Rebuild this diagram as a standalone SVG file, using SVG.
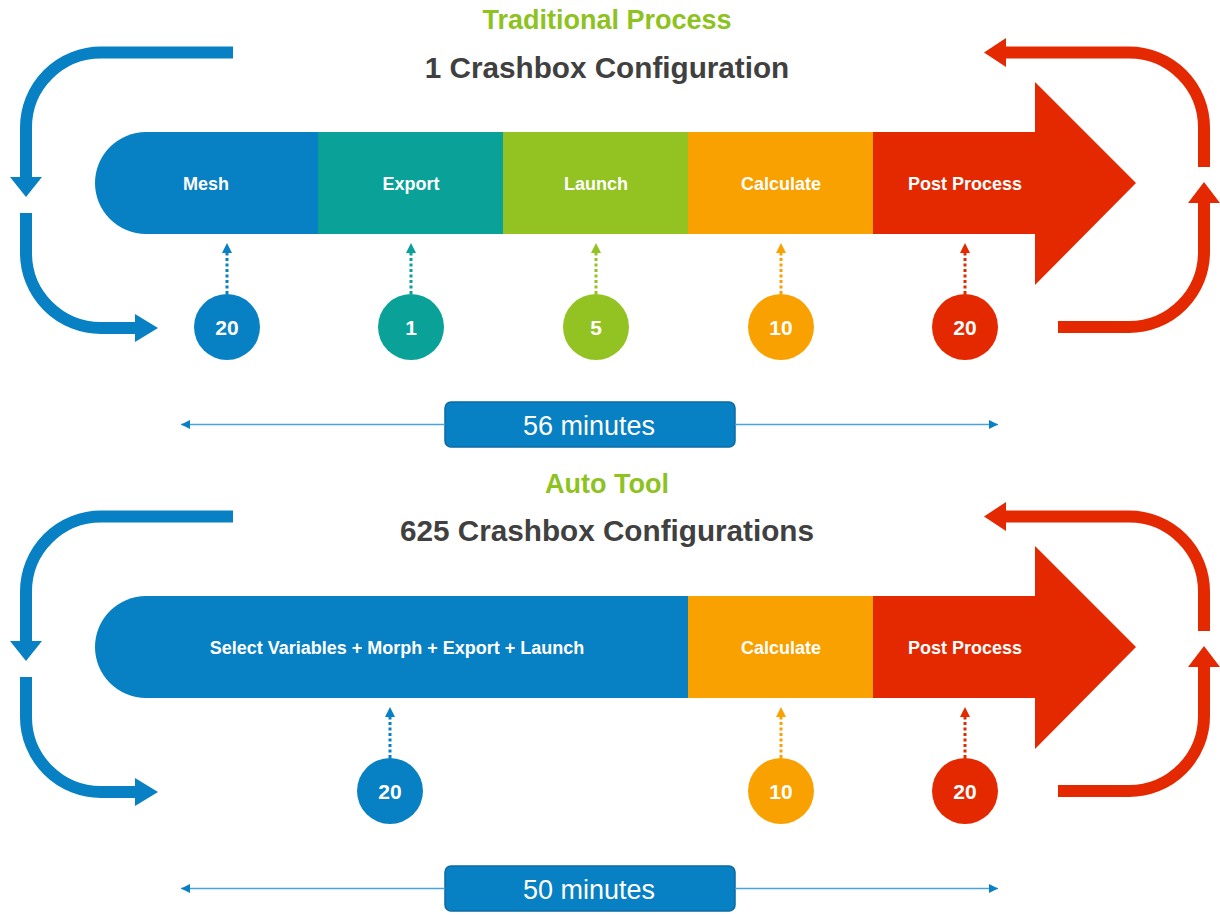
<svg xmlns="http://www.w3.org/2000/svg" width="1220" height="915" viewBox="0 0 1220 915">
<defs>
<style>
.title{font-family:"Liberation Sans",Arial,sans-serif;font-weight:bold;font-size:27px;fill:#8dc21f;text-anchor:middle}
.sub{font-family:"Liberation Sans",Arial,sans-serif;font-weight:bold;font-size:29.7px;fill:#404040;text-anchor:middle}
.lbl{font-family:"Liberation Sans",Arial,sans-serif;font-weight:bold;font-size:18px;fill:#ffffff;text-anchor:middle}
.num{font-family:"Liberation Sans",Arial,sans-serif;font-weight:bold;font-size:21px;fill:#ffffff;text-anchor:middle}
.min{font-family:"Liberation Sans",Arial,sans-serif;font-size:27px;fill:#ffffff;text-anchor:middle}
.loopb{fill:none;stroke:#0880c4;stroke-width:12}
.loopr{fill:none;stroke:#e42800;stroke-width:12}
.dot{fill:none;stroke-width:3;stroke-dasharray:3 2.5}
.tl{stroke:#4aa3dc;stroke-width:1.3}
.box{fill:#0880c4;stroke:#0b6aa5;stroke-width:1.5}
</style>
<marker id="tip" viewBox="0 0 10 10" refX="10" refY="5" markerWidth="9" markerHeight="9" markerUnits="userSpaceOnUse" orient="auto-start-reverse"><path d="M0,0 L10,5 L0,10 Z" fill="#0880c4"/></marker>
</defs>
<rect width="1220" height="915" fill="#ffffff"/>

<g id="section1">
<text class="title" x="607" y="29">Traditional Process</text>
<text class="sub" x="607" y="78">1 Crashbox Configuration</text>

<g id="mesh"><path d="M146,132 H318 V234 H146 A51,51 0 0 1 146,132 Z" fill="#0880c4"/><text class="lbl" x="206" y="190">Mesh</text></g>
<g id="export"><rect x="318" y="132" width="185" height="102" fill="#0aa198"/><text class="lbl" x="411" y="190">Export</text></g>
<g id="launch"><rect x="503" y="132" width="185" height="102" fill="#92c323"/><text class="lbl" x="596" y="190">Launch</text></g>
<g id="calculate"><rect x="688" y="132" width="185" height="102" fill="#f9a100"/><text class="lbl" x="781" y="190">Calculate</text></g>
<g id="postprocess"><polygon points="873,132 1035,132 1035,82 1136,183 1035,285 1035,234 873,234" fill="#e42800"/><text class="lbl" x="965" y="190">Post Process</text></g>

<g id="t-mesh"><circle cx="227" cy="327" r="33" fill="#0880c4"/><text class="num" x="227" y="334.5">20</text></g>
<g id="t-export"><circle cx="411" cy="327" r="33" fill="#0aa198"/><text class="num" x="411" y="334.5">1</text></g>
<g id="t-launch"><circle cx="596" cy="327" r="33" fill="#92c323"/><text class="num" x="596" y="334.5">5</text></g>
<g id="t-calc"><circle cx="781" cy="327" r="33" fill="#f9a100"/><text class="num" x="781" y="334.5">10</text></g>
<g id="t-post"><circle cx="965" cy="327" r="33" fill="#e42800"/><text class="num" x="965" y="334.5">20</text></g>

<g id="total1"><rect class="box" x="445" y="402" width="290" height="45" rx="6"/><text class="min" x="589" y="434.5">56 minutes</text></g>
</g>

<g id="section2">
<text class="title" x="607" y="493">Auto Tool</text>
<text class="sub" x="607" y="541">625 Crashbox Configurations</text>

<g id="combined"><path d="M146,596 H688 V698 H146 A51,51 0 0 1 146,596 Z" fill="#0880c4"/><text class="lbl" x="397" y="654">Select Variables + Morph + Export + Launch</text></g>
<g id="calculate2"><rect x="688" y="596" width="185" height="102" fill="#f9a100"/><text class="lbl" x="781" y="654">Calculate</text></g>
<g id="postprocess2"><polygon points="873,596 1035,596 1035,546 1136,647 1035,749 1035,698 873,698" fill="#e42800"/><text class="lbl" x="965" y="654">Post Process</text></g>

<g id="t-combined"><circle cx="390" cy="791" r="33" fill="#0880c4"/><text class="num" x="390" y="798.5">20</text></g>
<g id="t-calc2"><circle cx="781" cy="791" r="33" fill="#f9a100"/><text class="num" x="781" y="798.5">10</text></g>
<g id="t-post2"><circle cx="965" cy="791" r="33" fill="#e42800"/><text class="num" x="965" y="798.5">20</text></g>

<g id="total2"><rect class="box" x="445" y="866" width="290" height="45" rx="6"/><text class="min" x="589" y="898.5">50 minutes</text></g>
</g>

<g id="connectors">
<path class="loopb" d="M233,52.5 H101 A75,75 0 0 0 26,127.5 V178"/>
<polygon points="10,177 42,177 26,197" fill="#0880c4"/>
<path class="loopb" d="M26,213 V253 A75,75 0 0 0 101,328 H136"/>
<polygon points="135,314 135,342 158,328" fill="#0880c4"/>
<path class="loopr" d="M1005,52.5 H1129 A75,75 0 0 1 1204,127.5 V167"/>
<polygon points="984,52.5 1006,38 1006,67" fill="#e42800"/>
<path class="loopr" d="M1204,202 V252 A75,75 0 0 1 1129,327 H1058"/>
<polygon points="1188,203 1220,203 1204,182" fill="#e42800"/>

<path class="loopb" d="M233,516.5 H101 A75,75 0 0 0 26,591.5 V642"/>
<polygon points="10,641 42,641 26,661" fill="#0880c4"/>
<path class="loopb" d="M26,677 V717 A75,75 0 0 0 101,792 H136"/>
<polygon points="135,778 135,806 158,792" fill="#0880c4"/>
<path class="loopr" d="M1005,516.5 H1129 A75,75 0 0 1 1204,591.5 V631"/>
<polygon points="984,516.5 1006,502 1006,531" fill="#e42800"/>
<path class="loopr" d="M1204,666 V716 A75,75 0 0 1 1129,791 H1058"/>
<polygon points="1188,667 1220,667 1204,646" fill="#e42800"/>

<g class="dot">
<path d="M227,294 V252" stroke="#0880c4"/>
<path d="M411,294 V252" stroke="#0aa198"/>
<path d="M596,294 V252" stroke="#92c323"/>
<path d="M781,294 V252" stroke="#f9a100"/>
<path d="M965,294 V252" stroke="#e42800"/>
<path d="M390,758 V716" stroke="#0880c4"/>
<path d="M781,758 V716" stroke="#f9a100"/>
<path d="M965,758 V716" stroke="#e42800"/>
</g>
<polygon points="222,253 232,253 227,243" fill="#0880c4"/>
<polygon points="406,253 416,253 411,243" fill="#0aa198"/>
<polygon points="591,253 601,253 596,243" fill="#92c323"/>
<polygon points="776,253 786,253 781,243" fill="#f9a100"/>
<polygon points="960,253 970,253 965,243" fill="#e42800"/>
<polygon points="385,717 395,717 390,707" fill="#0880c4"/>
<polygon points="776,717 786,717 781,707" fill="#f9a100"/>
<polygon points="960,717 970,717 965,707" fill="#e42800"/>

<line class="tl" x1="181" y1="424.5" x2="445" y2="424.5" marker-start="url(#tip)"/>
<line class="tl" x1="735" y1="424.5" x2="998" y2="424.5" marker-end="url(#tip)"/>
<line class="tl" x1="181" y1="888.5" x2="445" y2="888.5" marker-start="url(#tip)"/>
<line class="tl" x1="735" y1="888.5" x2="998" y2="888.5" marker-end="url(#tip)"/>
</g>
</svg>
